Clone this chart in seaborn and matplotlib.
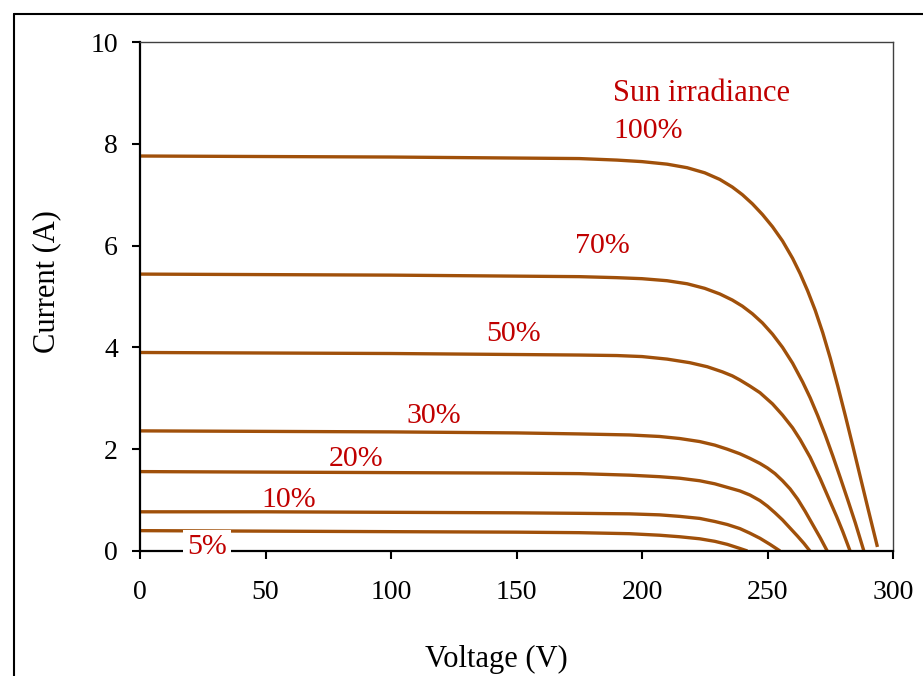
import matplotlib
matplotlib.use("Agg")
import matplotlib.pyplot as plt
from matplotlib.lines import Line2D
import seaborn as sns
import pandas as pd

# ---- data ----
irradiance = ["100%", "70%", "50%", "30%", "20%", "10%", "5%"]

v100 = [0, 50, 100, 150, 175, 190, 200, 210, 218, 225, 231, 236, 240, 244, 248, 252, 256,
        260, 263, 266, 269, 272, 275, 278, 281, 284, 287, 290, 292, 293.8]
i100 = [7.76, 7.75, 7.74, 7.72, 7.71, 7.68, 7.65, 7.60, 7.53, 7.43, 7.30, 7.15, 7.00, 6.82, 6.61, 6.37, 6.09,
        5.75, 5.45, 5.11, 4.73, 4.29, 3.79, 3.24, 2.66, 2.06, 1.45, 0.84, 0.44, 0.08]

v70 = [0, 50, 100, 150, 175, 190, 200, 210, 218, 225, 231, 236, 240, 244, 248, 252, 256,
       260, 264, 267, 270, 273, 276, 279, 282, 285, 288.4]
i70 = [5.44, 5.43, 5.42, 5.40, 5.39, 5.37, 5.35, 5.31, 5.25, 5.16, 5.05, 4.93, 4.81, 4.66, 4.48, 4.26, 4.00,
       3.69, 3.32, 3.01, 2.66, 2.28, 1.87, 1.44, 1.00, 0.55, 0.0]

v50 = [0, 50, 100, 150, 175, 190, 200, 210, 219, 226, 232, 236, 239, 243, 247, 252, 256,
       260, 263, 267, 271, 274, 277.6, 280, 282.9]
i50 = [3.90, 3.89, 3.88, 3.86, 3.85, 3.84, 3.82, 3.77, 3.70, 3.62, 3.52, 3.44, 3.36, 3.24, 3.11, 2.89, 2.67,
       2.42, 2.19, 1.84, 1.42, 1.08, 0.67, 0.38, 0.0]

v30 = [0, 50, 100, 150, 175, 195, 207, 215, 223, 229, 234, 239, 243, 247, 250, 253, 256,
       259, 262, 265, 268, 271, 273.8]
i30 = [2.36, 2.35, 2.34, 2.32, 2.30, 2.28, 2.25, 2.21, 2.15, 2.08, 2.00, 1.91, 1.82, 1.72, 1.63, 1.52, 1.38,
       1.22, 1.02, 0.78, 0.52, 0.26, 0.0]

v20 = [0, 50, 100, 150, 175, 195, 207, 215, 223, 229, 234, 239, 243, 247, 250, 253, 256,
       259, 262, 264.5, 266.9]
i20 = [1.56, 1.55, 1.54, 1.53, 1.52, 1.49, 1.46, 1.43, 1.38, 1.32, 1.25, 1.18, 1.10, 0.99, 0.88, 0.75, 0.61,
       0.45, 0.29, 0.15, 0.0]

v10 = [0, 50, 100, 150, 175, 195, 207, 215, 223, 229, 234, 239, 243, 247, 251, 255]
i10 = [0.77, 0.77, 0.76, 0.75, 0.74, 0.73, 0.71, 0.68, 0.64, 0.58, 0.52, 0.44, 0.35, 0.25, 0.13, 0.0]

v5 = [0, 50, 100, 150, 175, 195, 207, 215, 223, 229, 234, 239, 242]
i5 = [0.40, 0.39, 0.38, 0.37, 0.36, 0.34, 0.31, 0.28, 0.24, 0.19, 0.13, 0.05, 0.0]

x_ticks = [0, 50, 100, 150, 200, 250, 300]
y_ticks = [0, 2, 4, 6, 8, 10]

label_texts = ["Sun irradiance", "100%", "70%", "50%", "30%", "20%", "10%", "5%"]
label_x = [188.3, 188.4, 173.3, 138.1, 106.0, 75.0, 48.5, 18.8]
label_y = [8.84, 8.12, 5.85, 4.13, 2.52, 1.67, 0.87, -0.06]

# ---- build table ----
volts = [v100, v70, v50, v30, v20, v10, v5]
amps = [i100, i70, i50, i30, i20, i10, i5]
rows = []
for name, vs, cs in zip(irradiance, volts, amps):
    for v, c in zip(vs, cs):
        rows.append({"Irradiance": name, "Voltage": v, "Current": c})
df = pd.DataFrame(rows)

# ---- style ----
sns.set_style("white")
plt.rcParams["font.family"] = ["Liberation Serif", "DejaVu Serif"]

line_color = "#A0500A"
text_color = "#C00000"

fig = plt.figure(figsize=(9.23, 6.76), dpi=100)
ax = fig.add_axes([140 / 923, 125 / 676, 753 / 923, 509 / 676])

sns.lineplot(data=df, x="Voltage", y="Current", hue="Irradiance",
             palette=[line_color] * len(irradiance), legend=False,
             sort=False, estimator=None, linewidth=2.4, ax=ax)
for ln in ax.get_lines():
    ln.set_solid_joinstyle("round")
    ln.set_solid_capstyle("butt")

ax.set_xlim(0, 300)
ax.set_ylim(0, 10)
ax.set_xticks(x_ticks)
ax.set_yticks(y_ticks)
ax.tick_params(axis="both", which="major", bottom=True, left=True, direction="out",
               length=6, width=1.5, color="black", labelsize=20, labelcolor="black")
ax.tick_params(axis="x", pad=15)
ax.tick_params(axis="y", pad=10)

for side in ["left", "bottom"]:
    ax.spines[side].set_color("black")
    ax.spines[side].set_linewidth(1.6)
for side in ["top", "right"]:
    ax.spines[side].set_color("#404040")
    ax.spines[side].set_linewidth(1.0)
    ax.spines[side].set_visible(True)

ax.set_xlabel("Voltage (V)", fontsize=22, color="black")
ax.set_ylabel("Current (A)", fontsize=22, color="black")
ax.xaxis.set_label_coords(0.473, -0.184)
ax.yaxis.set_label_coords(-0.104, 0.53)

for t, x, y in zip(label_texts, label_x, label_y):
    kw = {}
    if t == "5%":
        kw["bbox"] = dict(facecolor="white", edgecolor="none", pad=3)
    ax.text(x, y, t, color=text_color, fontsize=22 if t == "Sun irradiance" else 21.5,
            ha="left", va="baseline", zorder=5, clip_on=False, **kw)

# figure border (left and top edges visible)
fx = 14 / 923
fy = 1 - 14 / 676
fig.add_artist(Line2D([fx, fx], [0, fy], transform=fig.transFigure, color="black", linewidth=1.5))
fig.add_artist(Line2D([fx, 1], [fy, fy], transform=fig.transFigure, color="black", linewidth=1.5))

fig.savefig("out.png", dpi=100, facecolor="white")
